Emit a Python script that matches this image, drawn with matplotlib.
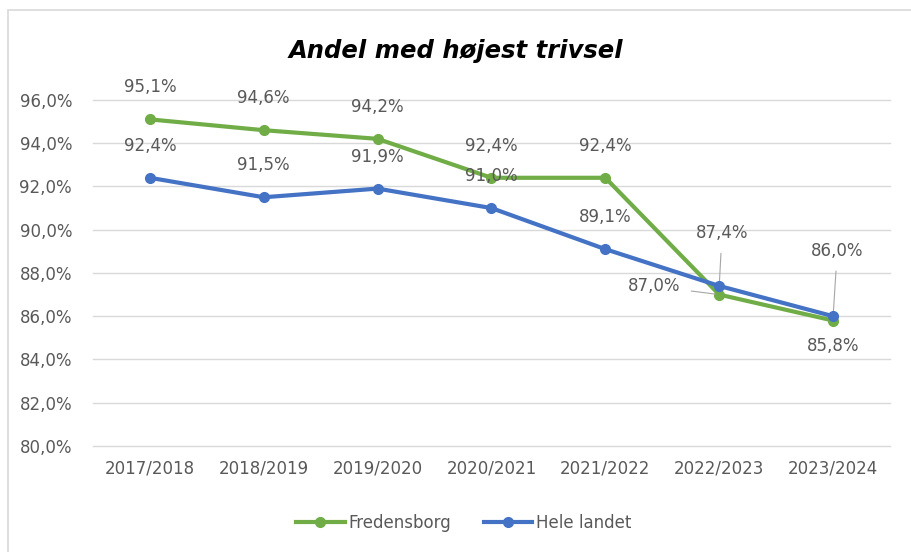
import matplotlib.pyplot as plt
from matplotlib.ticker import FuncFormatter
from matplotlib.patches import Rectangle

# data
years = ['2017/2018', '2018/2019', '2019/2020', '2020/2021', '2021/2022', '2022/2023', '2023/2024']
fredensborg = [95.1, 94.6, 94.2, 92.4, 92.4, 87.0, 85.8]
hele_landet = [92.4, 91.5, 91.9, 91.0, 89.1, 87.4, 86.0]

plt.rcParams['font.family'] = ['DejaVu Sans']

green = '#70AD47'
blue = '#4472C4'
grey = '#595959'

fig = plt.figure(figsize=(9.11, 5.52), dpi=100)
ax = fig.add_axes([0.102, 0.192, 0.875, 0.627])

# chart border (only top and left visible)
fig.patches.append(Rectangle((8 / 911, -0.1), 1.2, 1.1 - 10 / 552, transform=fig.transFigure,
                             fill=False, edgecolor='#D9D9D9', linewidth=1.2))

x = list(range(len(years)))
ax.plot(x, fredensborg, color=green, linewidth=3, marker='o', markersize=7, label='Fredensborg', zorder=3)
ax.plot(x, hele_landet, color=blue, linewidth=3, marker='o', markersize=7, label='Hele landet', zorder=4)

def fmt(v):
    return f'{v:.1f}%'.replace('.', ',')

lbl = dict(fontsize=12, color=grey, ha='center', va='center', textcoords='offset points')
arrow = dict(arrowstyle='-', color='#A6A6A6', linewidth=0.8, shrinkA=6, shrinkB=3)

# Fredensborg labels
for i, v in enumerate(fredensborg):
    if i == 5:
        ax.annotate(fmt(v), (i, v), xytext=(-47, 6), arrowprops=arrow, **lbl)
    elif i == 6:
        ax.annotate(fmt(v), (i, v), xytext=(0, -18), **lbl)
    else:
        ax.annotate(fmt(v), (i, v), xytext=(0, 23), **lbl)

# Hele landet labels
for i, v in enumerate(hele_landet):
    if i == 5:
        ax.annotate(fmt(v), (i, v), xytext=(2, 38), arrowprops=arrow, **lbl)
    elif i == 6:
        ax.annotate(fmt(v), (i, v), xytext=(3, 47), arrowprops=arrow, **lbl)
    else:
        ax.annotate(fmt(v), (i, v), xytext=(0, 23), **lbl)

ax.set_xlim(-0.5, len(years) - 0.5)
ax.set_ylim(80, 96)
ax.set_yticks(range(80, 97, 2))
ax.yaxis.set_major_formatter(FuncFormatter(lambda v, p: fmt(v)))
ax.set_xticks(x)
ax.set_xticklabels(years)
ax.tick_params(axis='both', length=0, labelsize=12, labelcolor=grey, pad=10)
ax.tick_params(axis='y', pad=15)
ax.grid(axis='y', color='#D9D9D9', linewidth=1)
for gl in ax.get_ygridlines():
    gl.set_clip_on(False)
ax.set_axisbelow(True)
for s in ax.spines.values():
    s.set_visible(False)

fig.text(0.5, 0.908, 'Andel med højest trivsel', ha='center', va='center',
         fontsize=17.5, fontweight='bold', fontstyle='italic', color='black')

fig.legend(loc='center', bbox_to_anchor=(0.509, 0.053), ncol=2, frameon=False,
           fontsize=12, labelcolor=grey, handlelength=2.9, handletextpad=0.2, columnspacing=2)

fig.savefig('out.png', dpi=100)
